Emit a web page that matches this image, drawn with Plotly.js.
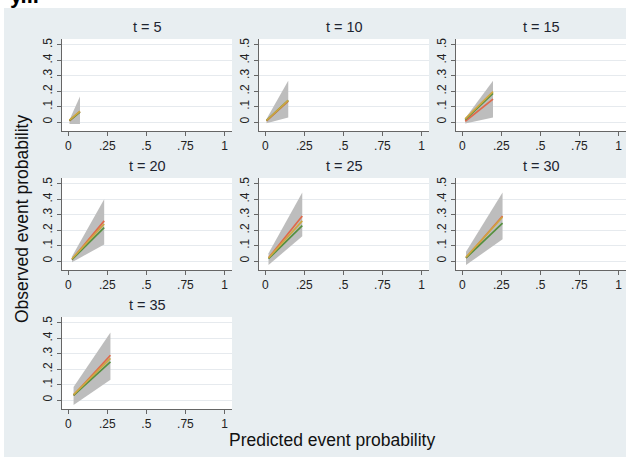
<!DOCTYPE html>
<html><head><meta charset="utf-8">
<script src="https://cdn.plot.ly/plotly-3.0.1.min.js"></script>
<style>html,body{margin:0;padding:0;background:#fff;overflow:hidden}#chart{width:626px;height:462px}</style>
</head><body><div id="chart"></div>
<script>
// ---- data ----
const panelTitles = ["t = 5", "t = 10", "t = 15", "t = 20", "t = 25", "t = 30", "t = 35"];
const xStart = [0.008, 0.008, 0.019, 0.024, 0.021, 0.024, 0.034];
const xEnd   = [0.075, 0.147, 0.197, 0.230, 0.237, 0.258, 0.270];
const bandLowStart  = [-0.012, -0.008, -0.010, -0.008, -0.025, -0.026, -0.032];
const bandLowEnd    = [-0.012,  0.030,  0.030,  0.108,  0.160,  0.141,  0.132];
const bandHighStart = [ 0.015,  0.020,  0.025,  0.030,  0.050,  0.060,  0.084];
const bandHighEnd   = [ 0.165,  0.268,  0.268,  0.400,  0.444,  0.444,  0.437];
const redStart   = [0.008, 0.008, 0.005, 0.010, 0.020, 0.020, 0.030];
const redEnd     = [0.068, 0.135, 0.149, 0.260, 0.292, 0.292, 0.290];
const oliveStart = [0.012, 0.010, 0.020, 0.015, 0.020, 0.025, 0.035];
const oliveEnd   = [0.070, 0.140, 0.197, 0.240, 0.260, 0.285, 0.270];
const greenStart = [0.010, 0.010, 0.015, 0.010, 0.015, 0.020, 0.030];
const greenEnd   = [0.065, 0.140, 0.185, 0.216, 0.230, 0.245, 0.247];
const xTickVals = [0, 0.25, 0.5, 0.75, 1];
const xTickText = ["0", ".25", ".5", ".75", "1"];
const yTickVals = [0, 0.1, 0.2, 0.3, 0.4, 0.5];
const yTickText = ["0", ".1", ".2", ".3", ".4", ".5"];
const xAxisTitle = "Predicted event probability";
const yAxisTitle = "Observed event probability";
const cutTopText = "y...";

// ---- layout geometry (pixels) ----
const W = 626, H = 462;
const colLeft = [62, 259, 456], panelW = 170;
const rowTop = [39, 178, 317], panelH = 92;
const titleY = [27, 166, 305];
const FONT = "Liberation Sans, Arial, sans-serif";
const colRed = "#e0694a", colOlive = "#cfa640", colGreen = "#55903f", colBand = "#bdbdbd";

const traces = [];
const layout = {
  width: W, height: H,
  margin: {l: 0, r: 0, t: 0, b: 0},
  paper_bgcolor: "#e8eef1",
  plot_bgcolor: "#ffffff",
  showlegend: false,
  font: {family: FONT, color: "#222222", size: 12},
  annotations: [],
  shapes: [
    {type: "rect", xref: "paper", yref: "paper", x0: 0, x1: 1, y0: 1 - 8 / H, y1: 1, fillcolor: "#ffffff", line: {width: 0}, layer: "below"},
    {type: "rect", xref: "paper", yref: "paper", x0: 0, x1: 4 / W, y0: 0, y1: 1, fillcolor: "#ffffff", line: {width: 0}, layer: "below"},
    {type: "rect", xref: "paper", yref: "paper", x0: 0, x1: 1, y0: 0, y1: 5 / H, fillcolor: "#ffffff", line: {width: 0}, layer: "below"}
  ]
};

panelTitles.forEach((title, i) => {
  const r = Math.floor(i / 3), c = i % 3;
  const sfx = i === 0 ? "" : String(i + 1);
  const xa = "x" + sfx, ya = "y" + sfx;
  const x0 = colLeft[c], y0 = rowTop[r];
  layout["xaxis" + sfx] = {
    domain: [x0 / W, (x0 + panelW) / W],
    anchor: ya, range: [-0.04, 1.048],
    tickvals: xTickVals, ticktext: xTickText,
    ticks: "outside", ticklen: 4, tickcolor: "#666", tickwidth: 1,
    showline: true, linecolor: "#666", linewidth: 1,
    showgrid: false, zeroline: false, fixedrange: true,
    tickfont: {family: FONT, size: 12, color: "#222"}
  };
  layout["yaxis" + sfx] = {
    domain: [1 - (y0 + panelH) / H, 1 - y0 / H],
    anchor: xa, range: [-0.058, 0.538],
    tickvals: yTickVals, ticktext: yTickText, tickangle: -90,
    ticks: "outside", ticklen: 4, tickcolor: "#666", tickwidth: 1,
    showline: true, linecolor: "#666", linewidth: 1,
    showgrid: true, gridcolor: "#e6eaee", gridwidth: 1,
    zeroline: false, fixedrange: true,
    tickfont: {family: FONT, size: 12, color: "#222"}
  };
  // confidence band
  traces.push({
    type: "scatter", mode: "lines", xaxis: xa, yaxis: ya,
    x: [xStart[i], xEnd[i], xEnd[i], xStart[i], xStart[i]],
    y: [bandLowStart[i], bandLowEnd[i], bandHighEnd[i], bandHighStart[i], bandLowStart[i]],
    fill: "toself", fillcolor: colBand, line: {width: 0, color: colBand},
    hoverinfo: "skip", name: "band"
  });
  const series = [
    [redStart, redEnd, colRed, "red"],
    [greenStart, greenEnd, colGreen, "green"],
    [oliveStart, oliveEnd, colOlive, "olive"]
  ];
  series.forEach(([s, e, col, nm]) => {
    traces.push({
      type: "scatter", mode: "lines", xaxis: xa, yaxis: ya,
      x: [xStart[i], xEnd[i]], y: [s[i], e[i]],
      line: {color: col, width: 1.7}, name: nm
    });
  });
  layout.annotations.push({
    text: title, xref: "paper", yref: "paper",
    x: (x0 + panelW / 2) / W, y: 1 - titleY[r] / H,
    xanchor: "center", yanchor: "middle", showarrow: false,
    font: {family: FONT, size: 14.5, color: "#1e2430"}
  });
});

layout.annotations.push({
  text: xAxisTitle, xref: "paper", yref: "paper",
  x: 332 / W, y: 1 - 440 / H, xanchor: "center", yanchor: "middle",
  showarrow: false, font: {family: FONT, size: 17.5, color: "#111"}
});
layout.annotations.push({
  text: yAxisTitle, xref: "paper", yref: "paper", textangle: -90,
  x: 22 / W, y: 1 - 219 / H, xanchor: "center", yanchor: "middle",
  showarrow: false, font: {family: FONT, size: 17.5, color: "#111"}
});
layout.annotations.push({
  text: "<b>" + cutTopText + "</b>", xref: "paper", yref: "paper",
  x: 8 / W, y: 1 - 10 / H, xanchor: "left", yanchor: "bottom",
  showarrow: false, font: {family: FONT, size: 22, color: "#000"}
});

Plotly.newPlot("chart", traces, layout, {displayModeBar: false, staticPlot: true});
</script>
</body></html>
